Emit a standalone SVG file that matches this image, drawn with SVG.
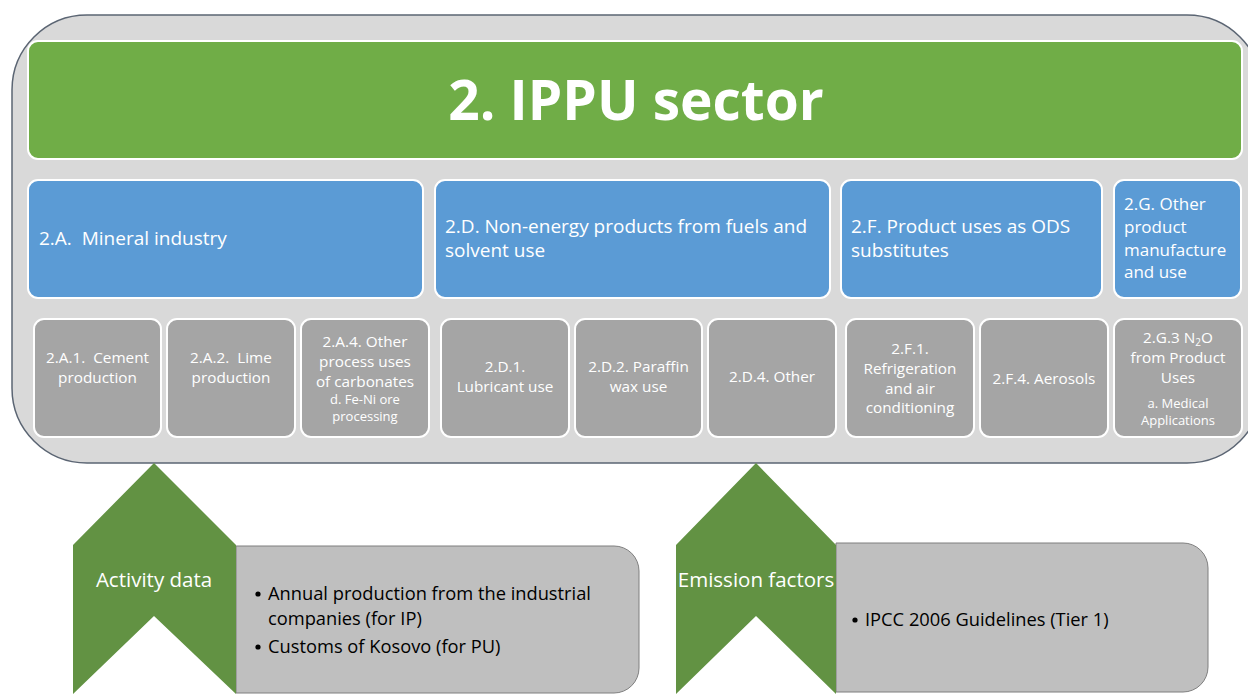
<svg xmlns="http://www.w3.org/2000/svg" width="1248" height="694" viewBox="0 0 1248 694">
  <style>
    .frame { fill: #d9d9d9; stroke: #5b6573; stroke-width: 1.5; }
    .title { fill: #70ad47; stroke: #ffffff; stroke-width: 2; }
    .cat { fill: #5b9bd5; stroke: #ffffff; stroke-width: 2; }
    .sub { fill: #a5a5a5; stroke: #ffffff; stroke-width: 2; }
    .chev { fill: #629243; }
    .info { fill: #bfbfbf; stroke: #7f7f7f; stroke-width: 1; }
    text { font-family: "Open Sans", "Liberation Sans", Arial, sans-serif; }
    .t-title { fill: #ffffff; font-size: 55px; font-weight: bold; text-anchor: middle; }
    .t-cat { fill: #ffffff; font-size: 19px; }
    .t-cat-narrow { fill: #ffffff; font-size: 17px; }
    .t-sub { fill: #ffffff; font-size: 15.3px; text-anchor: middle; }
    .t-small { fill: #ffffff; font-size: 13px; text-anchor: middle; }
    .t-chev { fill: #ffffff; font-size: 20.5px; text-anchor: middle; }
    .t-info { fill: #000000; font-size: 18.3px; }
  </style>

  <!-- outer container -->
  <rect class="frame" x="12" y="15" width="1250" height="448" rx="75" ry="75"/>

  <g id="title">
    <rect class="title" x="28" y="41" width="1214" height="118" rx="10"/>
    <text class="t-title" x="636" y="120">2. IPPU sector</text>
  </g>

  <!-- category boxes -->
  <g id="cat-2A">
    <rect class="cat" x="28" y="180" width="395" height="118" rx="10"/>
    <text class="t-cat" x="39" y="245" xml:space="preserve">2.A.  Mineral industry</text>
  </g>
  <g id="cat-2D">
    <rect class="cat" x="435" y="180" width="395" height="118" rx="10"/>
    <text class="t-cat" x="445" y="233">2.D. Non-energy products from fuels and</text>
    <text class="t-cat" x="445" y="257">solvent use</text>
  </g>
  <g id="cat-2F">
    <rect class="cat" x="841" y="180" width="261" height="118" rx="10"/>
    <text class="t-cat" x="851" y="233">2.F. Product uses as ODS</text>
    <text class="t-cat" x="851" y="257">substitutes</text>
  </g>
  <g id="cat-2G">
    <rect class="cat" x="1114" y="180" width="127" height="118" rx="10"/>
    <text class="t-cat-narrow" x="1124" y="210">2.G. Other</text>
    <text class="t-cat-narrow" x="1124" y="233">product</text>
    <text class="t-cat-narrow" x="1124" y="256">manufacture</text>
    <text class="t-cat-narrow" x="1124" y="278">and use</text>
  </g>

  <!-- subcategory boxes -->
  <g id="sub-2A1">
    <rect class="sub" x="34" y="319" width="127" height="118" rx="10"/>
    <text class="t-sub" x="97.5" y="363" xml:space="preserve">2.A.1.  Cement</text>
    <text class="t-sub" x="97.5" y="383">production</text>
  </g>
  <g id="sub-2A2">
    <rect class="sub" x="167" y="319" width="128" height="118" rx="10"/>
    <text class="t-sub" x="231" y="363" xml:space="preserve">2.A.2.  Lime</text>
    <text class="t-sub" x="231" y="383">production</text>
  </g>
  <g id="sub-2A4">
    <rect class="sub" x="301" y="319" width="128" height="118" rx="10"/>
    <text class="t-sub" x="365" y="347">2.A.4. Other</text>
    <text class="t-sub" x="365" y="367">process uses</text>
    <text class="t-sub" x="365" y="387">of carbonates</text>
    <text class="t-small" x="365" y="404">d. Fe-Ni ore</text>
    <text class="t-small" x="365" y="421">processing</text>
  </g>
  <g id="sub-2D1">
    <rect class="sub" x="441" y="319" width="128" height="118" rx="10"/>
    <text class="t-sub" x="505" y="372">2.D.1.</text>
    <text class="t-sub" x="505" y="392">Lubricant use</text>
  </g>
  <g id="sub-2D2">
    <rect class="sub" x="575" y="319" width="127" height="118" rx="10"/>
    <text class="t-sub" x="638.5" y="372">2.D.2. Paraffin</text>
    <text class="t-sub" x="638.5" y="392">wax use</text>
  </g>
  <g id="sub-2D4">
    <rect class="sub" x="708" y="319" width="128" height="118" rx="10"/>
    <text class="t-sub" x="772" y="382">2.D.4. Other</text>
  </g>
  <g id="sub-2F1">
    <rect class="sub" x="846" y="319" width="128" height="118" rx="10"/>
    <text class="t-sub" x="910" y="354">2.F.1.</text>
    <text class="t-sub" x="910" y="374">Refrigeration</text>
    <text class="t-sub" x="910" y="394">and air</text>
    <text class="t-sub" x="910" y="413">conditioning</text>
  </g>
  <g id="sub-2F4">
    <rect class="sub" x="980" y="319" width="128" height="118" rx="10"/>
    <text class="t-sub" x="1044" y="384">2.F.4. Aerosols</text>
  </g>
  <g id="sub-2G3">
    <rect class="sub" x="1114" y="319" width="128" height="118" rx="10"/>
    <text class="t-sub" x="1178" y="343">2.G.3 N<tspan font-size="10" dy="3">2</tspan><tspan dy="-3">O</tspan></text>
    <text class="t-sub" x="1178" y="363">from Product</text>
    <text class="t-sub" x="1178" y="383">Uses</text>
    <text class="t-small" x="1178" y="408">a. Medical</text>
    <text class="t-small" x="1178" y="425">Applications</text>
  </g>

  <!-- input panels -->
  <g id="activity-data">
    <path class="info" d="M236 546 H614 A25 25 0 0 1 639 571 V668 A25 25 0 0 1 614 693 H236 Z"/>
    <path class="chev" d="M73 545 L154 463 L236 545 V694 L154 616 L73 694 Z"/>
    <text class="t-chev" x="154" y="587">Activity data</text>
    <circle cx="258" cy="594" r="2.6" fill="#000"/>
    <text class="t-info" x="268" y="600">Annual production from the industrial</text>
    <text class="t-info" x="268" y="625">companies (for IP)</text>
    <circle cx="258" cy="647" r="2.6" fill="#000"/>
    <text class="t-info" x="268" y="653">Customs of Kosovo (for PU)</text>
  </g>

  <g id="emission-factors">
    <path class="info" d="M836 543 H1183 A25 25 0 0 1 1208 568 V667 A25 25 0 0 1 1183 692 H836 Z"/>
    <path class="chev" d="M676 545 L756 463 L836 545 V694 L756 616 L676 694 Z"/>
    <text class="t-chev" x="756" y="587">Emission factors</text>
    <circle cx="855" cy="620" r="2.6" fill="#000"/>
    <text class="t-info" x="865" y="626">IPCC 2006 Guidelines (Tier 1)</text>
  </g>
</svg>
